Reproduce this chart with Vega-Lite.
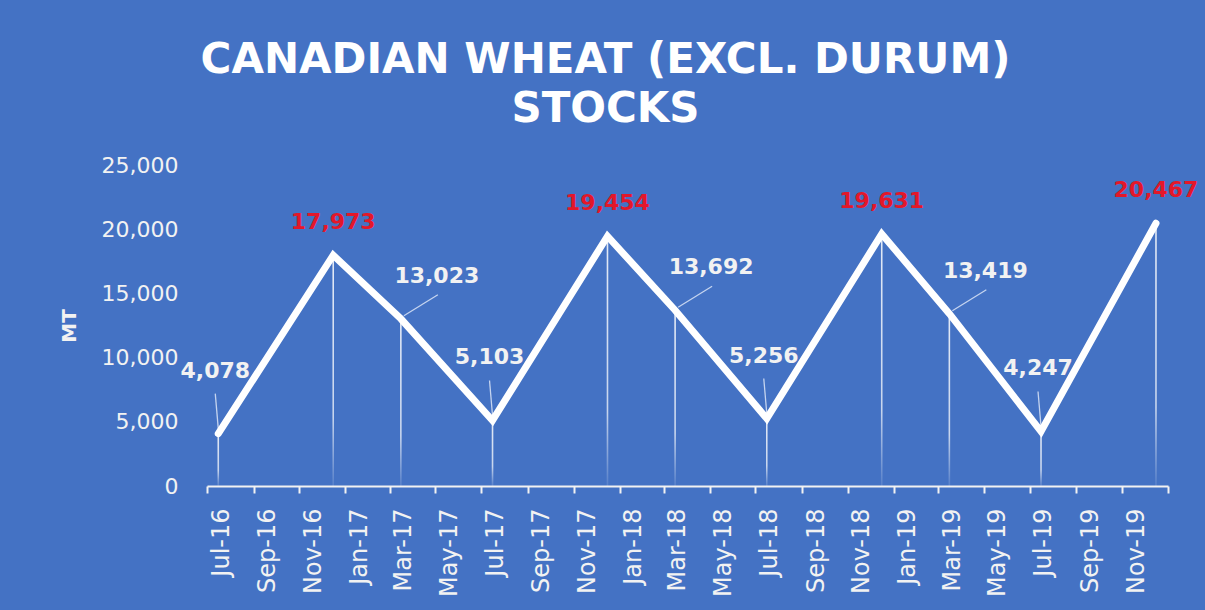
{
  "$schema": "https://vega.github.io/schema/vega-lite/v6.json",
  "width": 961,
  "height": 321,
  "autosize": {"type": "none"},
  "padding": {"left": 207, "top": 165, "right": 37, "bottom": 124},
  "background": "#4472C4",
  "title": {
    "text": ["CANADIAN WHEAT (EXCL. DURUM)", "STOCKS"],
    "font": "DejaVu Sans",
    "fontSize": 42,
    "fontWeight": "bold",
    "color": "#FFFFFF",
    "lineHeight": 49,
    "anchor": "middle",
    "frame": "group",
    "dx": -82,
    "offset": 23
  },
  "data": {
    "values": [
      {"date": "2016-07-16", "stocks": 4078},
      {"date": "2016-12-16", "stocks": 17973},
      {"date": "2017-03-16", "stocks": 13023},
      {"date": "2017-07-16", "stocks": 5103},
      {"date": "2017-12-16", "stocks": 19454},
      {"date": "2018-03-16", "stocks": 13692},
      {"date": "2018-07-16", "stocks": 5256},
      {"date": "2018-12-16", "stocks": 19631},
      {"date": "2019-03-16", "stocks": 13419},
      {"date": "2019-07-16", "stocks": 4247},
      {"date": "2019-12-16", "stocks": 20467}
    ]
  },
  "encoding": {
    "x": {
      "field": "date",
      "type": "temporal",
      "scale": {
        "domain": [{"year": 2016, "month": 7, "date": 1}, {"year": 2020, "month": 1, "date": 1}],
        "nice": false,
        "padding": 0
      },
      "axis": {
        "title": null,
        "tickCount": {"interval": "month", "step": 2},
        "labelExpr": "year(datum.value) >= 2020 ? '' : timeFormat(datum.value, '%b-%y')",
        "labelAngle": -90,
        "labelAlign": "right",
        "labelBaseline": "middle",
        "labelOffset": 14,
        "labelPadding": 15,
        "labelFont": "DejaVu Sans",
        "labelFontSize": 24,
        "labelColor": "#F2F2F2",
        "domainColor": "#F2F2F2",
        "domainWidth": 2,
        "tickColor": "#F2F2F2",
        "tickWidth": 2,
        "tickSize": 7,
        "grid": false,
        "labelFlush": false,
        "labelOverlap": false,
        "labelBound": false
      }
    },
    "y": {
      "field": "stocks",
      "type": "quantitative",
      "scale": {"domain": [0, 25000], "nice": false},
      "axis": {
        "title": "MT",
        "titleFont": "DejaVu Sans",
        "titleFontSize": 20,
        "titleFontWeight": "bold",
        "titleColor": "#F2F2F2",
        "titlePadding": 22,
        "values": [0, 5000, 10000, 15000, 20000, 25000],
        "format": ",.0f",
        "domain": false,
        "ticks": false,
        "tickSize": 0,
        "labelPadding": 29,
        "grid": false,
        "labelFont": "DejaVu Sans",
        "labelFontSize": 22,
        "labelColor": "#F2F2F2"
      }
    }
  },
  "layer": [
    {
      "mark": {
        "type": "bar",
        "width": 1.6,
        "fill": {
          "gradient": "linear",
          "x1": 0, "y1": 0, "x2": 0, "y2": 1,
          "stops": [
            {"offset": 0, "color": "rgba(255,255,255,0.85)"},
            {"offset": 0.7, "color": "rgba(255,255,255,0.7)"},
            {"offset": 1, "color": "rgba(255,255,255,0.1)"}
          ]
        }
      },
      "encoding": {"y2": {"datum": 0}}
    },
    {
      "transform": [{"filter": "datum.stocks > 10000 && datum.stocks < 17000"}],
      "mark": {"type": "rule", "stroke": "#C5D4EF", "strokeWidth": 1.3, "xOffset": 3, "yOffset": -3, "x2Offset": 37, "y2Offset": -24},
      "encoding": {"x2": {"field": "date"}, "y2": {"field": "stocks"}}
    },
    {
      "transform": [{"filter": "datum.stocks < 10000"}],
      "mark": {"type": "rule", "stroke": "#C5D4EF", "strokeWidth": 1.3, "xOffset": 0, "yOffset": -5, "x2Offset": -3, "y2Offset": -40},
      "encoding": {"x2": {"field": "date"}, "y2": {"field": "stocks"}}
    },
    {
      "mark": {"type": "line", "color": "#FFFFFF", "strokeWidth": 7, "strokeCap": "round", "strokeJoin": "miter"}
    },
    {
      "mark": {"type": "point", "filled": true, "color": "#FFFFFF", "size": 30, "opacity": 1}
    },
    {
      "transform": [{"filter": "datum.stocks > 17000"}],
      "mark": {"type": "text", "font": "DejaVu Sans", "fontSize": 22, "fontWeight": "bold", "color": "#E3172A", "dy": -33, "baseline": "middle", "align": "center"},
      "encoding": {"text": {"field": "stocks", "type": "quantitative", "format": ",.0f"}}
    },
    {
      "transform": [{"filter": "datum.stocks > 10000 && datum.stocks < 17000"}],
      "mark": {"type": "text", "font": "DejaVu Sans", "fontSize": 22, "fontWeight": "bold", "color": "#F2F2F2", "dx": 36, "dy": -43, "baseline": "middle", "align": "center"},
      "encoding": {"text": {"field": "stocks", "type": "quantitative", "format": ",.0f"}}
    },
    {
      "transform": [{"filter": "datum.stocks < 10000"}],
      "mark": {"type": "text", "font": "DejaVu Sans", "fontSize": 22, "fontWeight": "bold", "color": "#F2F2F2", "dx": -3, "dy": -63, "baseline": "middle", "align": "center"},
      "encoding": {"text": {"field": "stocks", "type": "quantitative", "format": ",.0f"}}
    }
  ],
  "config": {"view": {"stroke": null}}
}
